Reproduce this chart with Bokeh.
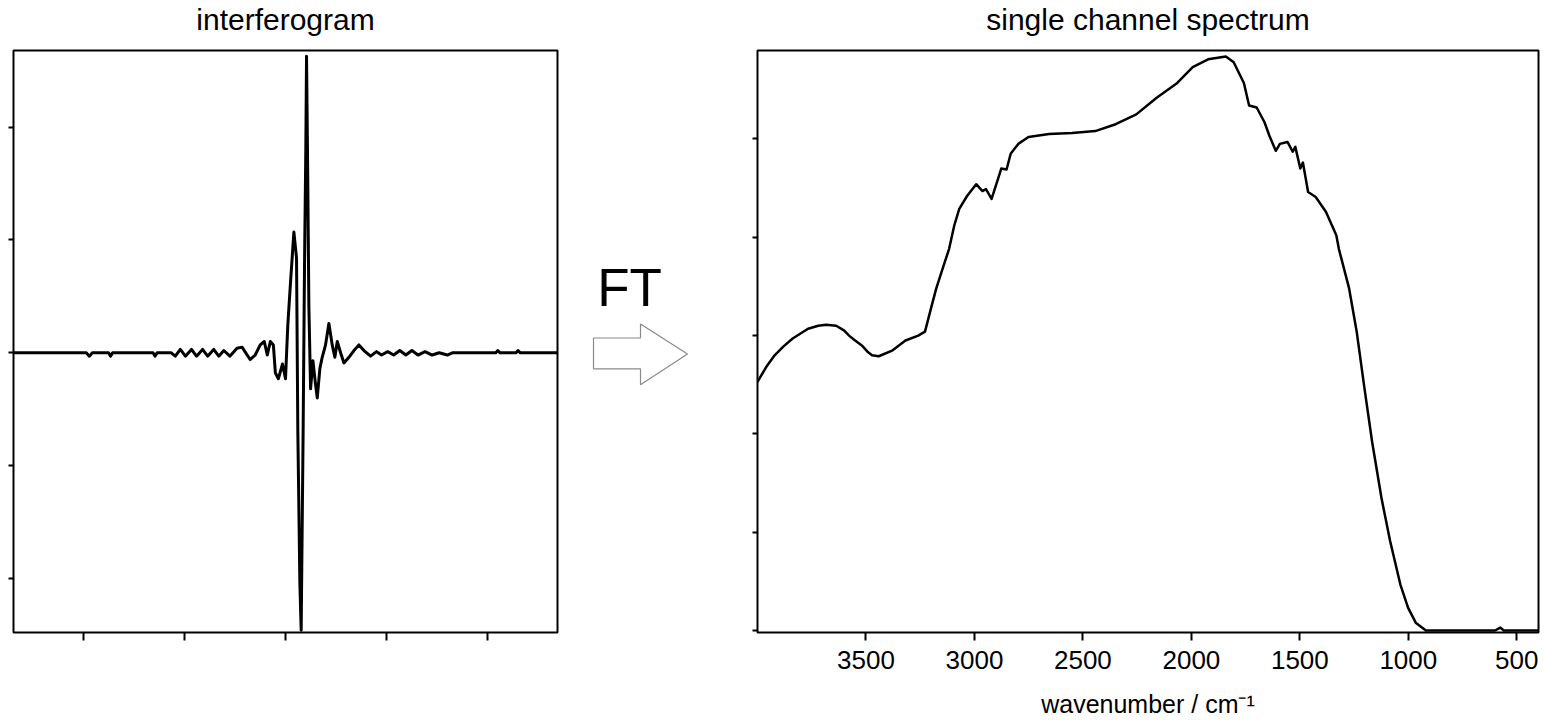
from bokeh.plotting import figure
from bokeh.layouts import row, column
from bokeh.models import Range1d, FixedTicker
from bokeh.embed import file_html
from bokeh.resources import INLINE
from bokeh.core.properties import value

FONT = "Liberation Sans"

# ---------------- data ----------------
# interferogram: optical path difference (tick units) vs detector signal (tick units)
ifg_x = [-2.69, -1.97, -1.94, -1.91, -1.75, -1.73, -1.71, -1.31, -1.29, -1.27,
         -1.13, -1.09, -1.04, -0.99, -0.93, -0.88, -0.82, -0.77, -0.71, -0.66,
         -0.61, -0.55, -0.48, -0.43, -0.35, -0.30, -0.25, -0.21, -0.18, -0.15,
         -0.12, -0.10, -0.07, -0.03, 0.00, 0.023, 0.05, 0.083, 0.109, 0.122,
         0.142, 0.155, 0.175, 0.188, 0.201, 0.208, 0.221, 0.231, 0.248, 0.271,
         0.297, 0.314, 0.340, 0.363, 0.396, 0.429, 0.462, 0.488, 0.512, 0.545,
         0.578, 0.627, 0.677, 0.726, 0.776, 0.842, 0.90, 0.95, 1.01, 1.07,
         1.13, 1.19, 1.25, 1.31, 1.38, 1.45, 1.52, 1.60, 1.65, 2.08,
         2.10, 2.12, 2.28, 2.30, 2.32, 2.69]
ifg_y = [0.00, 0.00, -0.03, 0.00, 0.00, -0.03, 0.00, 0.00, -0.03, 0.00,
         0.00, -0.03, 0.03, -0.03, 0.03, -0.03, 0.03, -0.03, 0.03, -0.03,
         0.02, -0.03, 0.04, 0.05, -0.06, -0.02, 0.07, 0.10, -0.02, 0.10,
         0.07, -0.18, -0.23, -0.10, -0.23, 0.25, 0.63, 1.07, 0.84, -0.70,
         -2.04, -2.46, -0.63, 0.77, 1.82, 2.63, 1.47, 0.42, -0.32, -0.07,
         -0.28, -0.40, -0.14, -0.04, 0.07, 0.26, 0.07, -0.04, 0.10, 0.00,
         -0.09, -0.04, 0.02, 0.07, 0.02, -0.03, 0.01, -0.02, 0.01, -0.02,
         0.02, -0.02, 0.02, -0.02, 0.01, -0.02, 0.00, -0.02, 0.00, 0.00,
         0.02, 0.00, 0.00, 0.02, 0.00, 0.00]
ifg_ticks_x = [-2, -1, 0, 1, 2]
ifg_ticks_y = [-2, -1, 0, 1, 2]

# single channel spectrum: wavenumber (cm-1) vs intensity (tick units)
spec_wn = [4000, 3960, 3921, 3880, 3838, 3767, 3720, 3684, 3637, 3600,
           3578, 3550, 3519, 3490, 3472, 3441, 3377, 3318, 3259, 3228,
           3200, 3176, 3141, 3117, 3093, 3070, 3034, 2992, 2963, 2947,
           2921, 2892, 2876, 2852, 2833, 2798, 2751, 2656, 2550, 2443,
           2349, 2254, 2160, 2065, 1994, 1923, 1841, 1805, 1758, 1734,
           1699, 1663, 1640, 1611, 1592, 1557, 1533, 1521, 1498, 1486,
           1462, 1427, 1380, 1332, 1320, 1273, 1238, 1202, 1167, 1124,
           1084, 1037, 1001, 966, 919, 600, 576, 560, 400]
spec_I = [2.53, 2.68, 2.80, 2.89, 2.97, 3.07, 3.10, 3.11, 3.10, 3.05,
          3.00, 2.95, 2.90, 2.83, 2.80, 2.79, 2.85, 2.95, 3.00, 3.04,
          3.28, 3.48, 3.72, 3.88, 4.12, 4.29, 4.42, 4.54, 4.47, 4.49,
          4.39, 4.59, 4.70, 4.69, 4.85, 4.95, 5.02, 5.05, 5.06, 5.08,
          5.15, 5.25, 5.42, 5.57, 5.73, 5.81, 5.84, 5.78, 5.57, 5.34,
          5.32, 5.17, 5.03, 4.88, 4.95, 4.97, 4.87, 4.92, 4.70, 4.76,
          4.46, 4.41, 4.26, 4.02, 3.88, 3.48, 3.04, 2.46, 1.92, 1.35,
          0.91, 0.47, 0.23, 0.08, 0.00, 0.00, 0.03, 0.00, 0.00]
spec_ticks_x = [3500, 3000, 2500, 2000, 1500, 1000, 500]
spec_ticks_y = [0, 1, 2, 3, 4, 5]

titles = ["interferogram", "single channel spectrum"]

# block arrow outline (middle panel, pixel-like coordinates, y downward)
arrow_x = [23, 70, 70, 117, 70, 70, 23]
arrow_y = [337, 337, 323, 353, 384, 368, 368]

TH = 36            # height of the title strip
H = 720 - TH       # height of the plot strip
TOP, BOTTOM = 48, 633
TITLE_Y = 18.5


def blank(p):
    p.axis.visible = False
    p.grid.visible = False
    p.outline_line_color = None
    p.background_fill_color = "white"
    p.border_fill_color = "white"


def title_fig(width, left, right, text):
    t = figure(width=width, height=TH, output_backend="svg", toolbar_location=None,
               x_range=Range1d(0, 1), y_range=Range1d(TH, 0),
               min_border_left=left, min_border_right=right,
               min_border_top=0, min_border_bottom=0)
    blank(t)
    if text:
        t.text(x=[0.5], y=[TITLE_Y], text=[text], text_align="center",
               text_baseline="alphabetic", text_font=value(FONT),
               text_font_size="30px", text_color="black")
    return t


def style_common(p):
    p.outline_line_color = "black"
    p.outline_line_width = 2
    p.background_fill_color = "white"
    p.border_fill_color = "white"
    p.xgrid.visible = False
    p.ygrid.visible = False
    for ax in (p.xaxis[0], p.yaxis[0]):
        ax.axis_line_color = None
        ax.minor_tick_line_color = None
        ax.major_tick_in = 0
        ax.major_tick_line_color = "black"
        ax.major_tick_line_width = 2
    p.xaxis.major_tick_out = 8
    p.yaxis.major_tick_out = 5


def hide_labels(ax):
    ax.major_label_text_color = None
    ax.major_label_text_font_size = "1px"
    ax.major_label_standoff = 0


# ---------------- left: interferogram ----------------
p1 = figure(width=570, height=H, output_backend="svg", toolbar_location=None,
            x_range=Range1d(-2.69, 2.69), y_range=Range1d(-2.48, 2.68),
            min_border_left=13, min_border_right=13, min_border_top=TOP - TH,
            min_border_bottom=720 - BOTTOM)
style_common(p1)
p1.xaxis.ticker = FixedTicker(ticks=ifg_ticks_x)
p1.yaxis.ticker = FixedTicker(ticks=ifg_ticks_y)
hide_labels(p1.xaxis[0])
hide_labels(p1.yaxis[0])
p1.line(ifg_x, ifg_y, line_color="black", line_width=3, line_join="round")

# ---------------- middle: FT arrow ----------------
p2 = figure(width=170, height=H, output_backend="svg", toolbar_location=None,
            x_range=Range1d(0, 170), y_range=Range1d(BOTTOM, TOP),
            min_border_left=0, min_border_right=0, min_border_top=TOP - TH,
            min_border_bottom=720 - BOTTOM)
blank(p2)
p2.patch(arrow_x, arrow_y, fill_color="white", line_color="#8a8a8a", line_width=1.2)
p2.text(x=[59], y=[286], text=["FT"], text_align="center",
        text_baseline="alphabetic", text_font=value(FONT),
        text_font_size="53px", text_color="black")

# ---------------- right: single channel spectrum ----------------
p3 = figure(width=805, height=H, output_backend="svg", toolbar_location=None,
            x_range=Range1d(4000, 400), y_range=Range1d(-0.02, 5.9),
            min_border_left=17, min_border_right=7, min_border_top=50 - TH,
            min_border_bottom=86)
style_common(p3)
p3.xaxis.ticker = FixedTicker(ticks=spec_ticks_x)
p3.yaxis.ticker = FixedTicker(ticks=spec_ticks_y)
hide_labels(p3.yaxis[0])
p3.xaxis.major_label_text_font = FONT
p3.xaxis.major_label_text_font_size = "26px"
p3.xaxis.major_label_text_color = "black"
p3.xaxis.major_label_standoff = 10
p3.xaxis.axis_label = "wavenumber / cm\u207b\u00b9"
p3.xaxis.axis_label_text_font = FONT
p3.xaxis.axis_label_text_font_size = "25px"
p3.xaxis.axis_label_text_font_style = "normal"
p3.xaxis.axis_label_text_color = "black"
p3.xaxis.axis_label_standoff = 18
p3.line(spec_wn, spec_I, line_color="black", line_width=2.5, line_join="round")

t1 = title_fig(570, 13, 13, titles[0])
t2 = title_fig(170, 0, 0, "")
t3 = title_fig(805, 17, 7, titles[1])

layout = column(row(t1, t2, t3, spacing=0), row(p1, p2, p3, spacing=0), spacing=0)

with open("out.html", "w") as f:
    f.write(file_html(layout, INLINE))
